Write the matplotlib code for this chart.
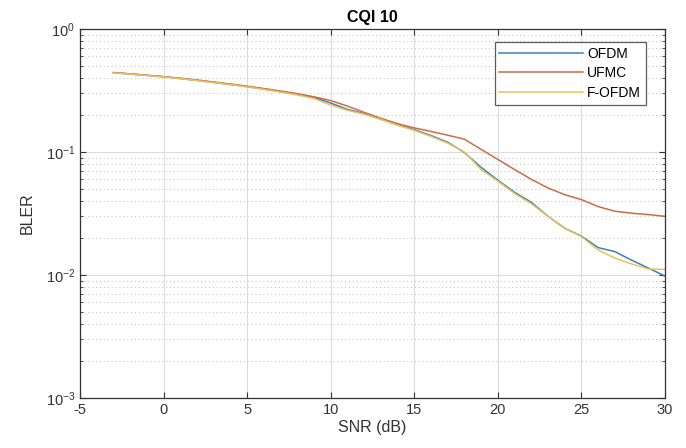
import matplotlib
matplotlib.use("Agg")
import matplotlib.pyplot as plt
from matplotlib.ticker import LogLocator, NullFormatter, FixedLocator

snr = list(range(-3, 31))
ofdm = [0.441, 0.431, 0.420, 0.409, 0.396, 0.382, 0.368, 0.354, 0.340, 0.325,
        0.310, 0.295, 0.278, 0.250, 0.222, 0.205, 0.185, 0.166, 0.152, 0.136,
        0.120, 0.099, 0.075, 0.059, 0.047, 0.039, 0.030, 0.024, 0.0207, 0.0167,
        0.0155, 0.0132, 0.0114, 0.0098]
ufmc = [0.443, 0.432, 0.421, 0.410, 0.398, 0.385, 0.371, 0.357, 0.343, 0.328,
        0.313, 0.298, 0.281, 0.262, 0.236, 0.210, 0.188, 0.170, 0.157, 0.147,
        0.137, 0.127, 0.105, 0.087, 0.072, 0.060, 0.051, 0.045, 0.041, 0.036,
        0.033, 0.0318, 0.031, 0.030]
fofdm = [0.440, 0.430, 0.419, 0.408, 0.395, 0.381, 0.367, 0.353, 0.339, 0.323,
         0.307, 0.291, 0.272, 0.241, 0.218, 0.203, 0.184, 0.165, 0.150, 0.134,
         0.118, 0.100, 0.072, 0.058, 0.046, 0.038, 0.030, 0.024, 0.0205, 0.0160,
         0.0137, 0.0123, 0.0112, 0.0111]

series = [("OFDM", ofdm, "#3a80b5"), ("UFMC", ufmc, "#cc6b48"), ("F-OFDM", fofdm, "#e9c25a")]

plt.rcParams['font.family'] = ['Liberation Sans', 'DejaVu Sans']
plt.rcParams['axes.unicode_minus'] = False

fig = plt.figure(figsize=(6.86, 4.48), dpi=100)
ax = fig.add_axes([80/686, 1-398/448, 585/686, 369/448])

for name, vals, col in series:
    ax.plot(snr, vals, color=col, lw=1.1, label=name)

ax.set_yscale('log')
ax.set_xlim(-5, 30)
ax.set_ylim(1e-3, 1)
ax.set_xticks(range(-5, 31, 5))
ax.yaxis.set_major_locator(FixedLocator([1e-3, 1e-2, 1e-1, 1]))
ax.yaxis.set_minor_locator(LogLocator(base=10, subs=range(2, 10)))
ax.yaxis.set_minor_formatter(NullFormatter())

ax.grid(True, which='major', color='#dcdcdc', lw=0.8, ls='-')
ax.grid(True, which='minor', axis='y', color='#c8c8c8', lw=0.8, ls=(0, (1, 2.5)))
ax.set_axisbelow(True)

ax.tick_params(which='both', direction='in', top=True, right=True,
               colors='#333333', labelcolor='#333333', labelsize=10.5)
ax.tick_params(which='major', length=4)
ax.tick_params(which='minor', length=2)
for s in ax.spines.values():
    s.set_color('#333333')
    s.set_linewidth(0.9)

ax.set_title("CQI 10", fontsize=11.5, fontweight='bold', pad=5)
ax.set_xlabel("SNR (dB)", fontsize=11.5, color='#333333', labelpad=2)
ax.set_ylabel("BLER", fontsize=11.5, color='#333333', labelpad=8)

leg = ax.legend(loc='upper right', bbox_to_anchor=(0.967, 0.965), fontsize=10,
                handlelength=6.0, frameon=True, fancybox=False, edgecolor='#333333',
                borderpad=0.35, labelspacing=0.4, handletextpad=0.3, borderaxespad=0)
leg.get_frame().set_linewidth(0.9)

fig.savefig("out.png", dpi=100)
